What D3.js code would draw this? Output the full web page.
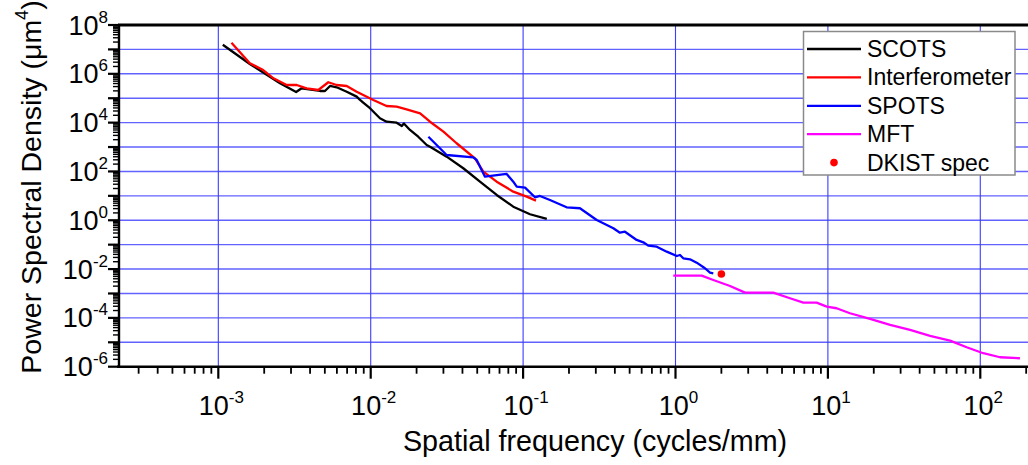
<!DOCTYPE html>
<html><head><meta charset="utf-8">
<script src="https://cdn.jsdelivr.net/npm/d3@7"></script>
<style>body{margin:0;background:#fff} svg{display:block} text{font-family:"Liberation Sans",Arial,sans-serif;fill:#000}</style>
</head><body><svg id="c" width="1028" height="465"></svg>
<script>
// ---- data (cycles/mm, um^4) ----
const scotsFreq=[1.07e-3,1.61e-3,2.54e-3,3.24e-3,3.52e-3,4.65e-3,5.01e-3,5.41e-3,5.98e-3,6.96e-3,8.09e-3,8.51e-3,8.93e-3,9.89e-3,1.15e-2,1.27e-2,1.48e-2,1.60e-2,1.65e-2,1.81e-2,2.05e-2,2.33e-2,2.45e-2,3.15e-2,4.05e-2,5.21e-2,6.71e-2,8.62e-2,0.111,0.143];
const scotsPSD=[1.56e7,2.52e6,4.09e5,1.80e5,2.55e5,1.98e5,1.98e5,3.17e5,2.80e5,1.85e5,1.16e5,8.47e4,6.56e4,3.9e4,1.51e4,1.09e4,9.95e3,7.28e3,9.22e3,5.0e3,2.65e3,1.21e3,1.03e3,403,135,38.1,10.9,3.60,1.76,1.13];
const interfFreq=[1.22e-3,1.61e-3,1.97e-3,2.30e-3,2.81e-3,3.27e-3,3.80e-3,4.53e-3,5.27e-3,5.98e-3,6.96e-3,8.09e-3,1.04e-2,1.27e-2,1.48e-2,1.72e-2,2.11e-2,2.45e-2,3.00e-2,3.66e-2,4.83e-2,5.48e-2,6.71e-2,8.62e-2,0.1056,0.1215];
const interfPSD=[1.88e7,2.70e6,1.43e6,6.55e5,3.48e5,3.48e5,2.55e5,2.17e5,4.50e5,3.48e5,3.17e5,1.85e5,8.46e4,4.81e4,4.50e4,3.52e4,2.41e4,1.09e4,4.26e3,1.43e3,346,97.7,38.1,14.8,9.25,6.34];
const spotsFreq=[2.39e-2,3.15e-2,4.71e-2,4.96e-2,5.62e-2,7.80e-2,8.62e-2,9.08e-2,0.103,0.1197,0.129,0.150,0.193,0.236,0.304,0.391,0.432,0.466,0.556,0.615,0.663,0.753,0.876,1.02,1.07,1.125,1.245,1.377,1.561,1.684,1.77];
const spotsPSD=[2.65e3,472,380,294,61.0,78.7,38.1,23.8,21.6,8.74,9.88,6.78,3.40,3.10,1.03,0.469,0.310,0.340,0.156,0.125,0.0910,0.0828,0.0516,0.0344,0.0378,0.0277,0.0252,0.0183,0.0108,0.00711,0.00673];
const mftFreq=[0.967,1.485,1.77,2.28,2.86,3.97,4.38,5.64,6.90,8.44,9.82,11.4,13.96,18.9,25.6,34.6,46.8,63.3,81.4,104.6,134.7,182];
const mftPSD=[5.37e-3,5.37e-3,3.58e-3,2.03e-3,1.08e-3,1.08e-3,1.08e-3,6.37e-4,4.21e-4,4.21e-4,2.88e-4,2.48e-4,1.55e-4,9.04e-5,5.13e-5,3.20e-5,1.82e-5,1.17e-5,6.25e-6,3.56e-6,2.44e-6,2.22e-6];
const dkistFreq=[2.0];
const dkistPSD=[6.3e-3];
const seriesNames=["SCOTS","Interferometer","SPOTS","MFT","DKIST spec"];
const seriesColors=["#000000","#ff0000","#0000ff","#ff00ff","#ff0000"];
const xTickExps=[-3,-2,-1,0,1,2];
const yTickExps=[-6,-4,-2,0,2,4,6,8];
const xTitle="Spatial frequency (cycles/mm)";
const yTitle="Power Spectral Density (\u03bcm";

// ---- layout ----
const L=119,R=1027.8,T=25,B=366.7;
const svg=d3.select("#c");
const x=d3.scaleLog().domain([2.23e-4,205]).range([L,R]);
const y=d3.scaleLog().domain([1e-6,1e8]).range([B,T]);

svg.append("defs").append("clipPath").attr("id","clip").append("rect")
  .attr("x",L).attr("y",T).attr("width",R-L+5).attr("height",B-T);

// grid
const g=svg.append("g");
const yDec=d3.range(-6,9).map(e=>Math.pow(10,e));
const xDec=d3.range(-3,3).map(e=>Math.pow(10,e));
g.selectAll(".hg").data(yDec.slice(1,-1)).join("line")
  .attr("x1",L).attr("x2",1028).attr("y1",d=>y(d)).attr("y2",d=>y(d))
  .attr("stroke","#6262ff").attr("stroke-width",1.4);
g.selectAll(".vg").data(xDec).join("line")
  .attr("y1",T).attr("y2",B).attr("x1",d=>x(d)).attr("x2",d=>x(d))
  .attr("stroke","#3c3cff").attr("stroke-width",1.1);

// curves
const line=d3.line().x(d=>x(d[0])).y(d=>y(d[1]));
const zip=(a,b)=>a.map((v,i)=>[v,b[i]]);
const curves=[[scotsFreq,scotsPSD,0],[interfFreq,interfPSD,1],[spotsFreq,spotsPSD,2],[mftFreq,mftPSD,3]];
const cg=svg.append("g").attr("clip-path","url(#clip)");
curves.forEach(([f,p,i])=>{
  cg.append("path").attr("d",line(zip(f,p))).attr("fill","none")
    .attr("stroke",seriesColors[i]).attr("stroke-width",2.3).attr("stroke-linejoin","round");
});
cg.selectAll(".dot").data(zip(dkistFreq,dkistPSD)).join("circle")
  .attr("cx",d=>x(d[0])).attr("cy",d=>y(d[1])).attr("r",3.8).attr("fill",seriesColors[4]);

// axes ticks
const yMinor=[],xMinor=[];
d3.range(-6,8).forEach(e=>{for(let k=2;k<=9;k++)yMinor.push(k*Math.pow(10,e));});
d3.range(-4,3).forEach(e=>{for(let k=2;k<=9;k++){const v=k*Math.pow(10,e);if(v>2.23e-4&&v<=205)xMinor.push(v);}});
const ax=svg.append("g");
ax.selectAll(".ymj").data(yDec).join("line").attr("x1",L-11).attr("x2",L).attr("y1",d=>y(d)).attr("y2",d=>y(d)).attr("stroke","#000").attr("stroke-width",2.2);
ax.selectAll(".ymn").data(yMinor).join("line").attr("x1",L-6).attr("x2",L).attr("y1",d=>y(d)).attr("y2",d=>y(d)).attr("stroke","#000").attr("stroke-width",1.4);
ax.selectAll(".xmj").data(xDec).join("line").attr("y1",B).attr("y2",B+12).attr("x1",d=>x(d)).attr("x2",d=>x(d)).attr("stroke","#000").attr("stroke-width",2.2);
ax.selectAll(".xmn").data(xMinor).join("line").attr("y1",B).attr("y2",B+7).attr("x1",d=>x(d)).attr("x2",d=>x(d)).attr("stroke","#000").attr("stroke-width",1.8);
ax.append("line").attr("x1",L).attr("x2",L).attr("y1",T-1).attr("y2",B+1).attr("stroke","#000").attr("stroke-width",2.4);
ax.append("line").attr("x1",L-2).attr("x2",1028).attr("y1",B).attr("y2",B).attr("stroke","#000").attr("stroke-width",2.4);
ax.append("line").attr("x1",L-1).attr("x2",1028).attr("y1",T).attr("y2",T).attr("stroke","#000").attr("stroke-width",3);

// tick labels
yTickExps.forEach(e=>{
  const t=ax.append("text").attr("x",108).attr("y",y(Math.pow(10,e))+9.5).attr("text-anchor","end").attr("font-size",27);
  t.append("tspan").text("10");
  t.append("tspan").attr("dy",-12).attr("font-size",17).text(e);
});
xTickExps.forEach(e=>{
  const t=ax.append("text").attr("x",x(Math.pow(10,e))+3).attr("y",415).attr("text-anchor","middle").attr("font-size",27);
  t.append("tspan").text("10");
  t.append("tspan").attr("dy",-12).attr("font-size",17).text(e);
});

// titles
svg.append("text").attr("x",595).attr("y",451).attr("text-anchor","middle").attr("font-size",28.7).text(xTitle);
const yt=svg.append("text").attr("transform","translate(41,187) rotate(-90)").attr("text-anchor","middle").attr("font-size",28.5);
yt.append("tspan").text(yTitle);
yt.append("tspan").attr("dy",-13).attr("font-size",18).text("4");
yt.append("tspan").attr("dy",13).text(")");

// legend
const lg=svg.append("g");
lg.append("rect").attr("x",803.5).attr("y",31.5).attr("width",211.5).attr("height",143.5).attr("fill","#fff").attr("stroke","#8a8a8a").attr("stroke-width",1.5);
seriesNames.forEach((n,i)=>{
  const yy=49+i*28.4;
  if(i<4) lg.append("line").attr("x1",807).attr("x2",861).attr("y1",yy).attr("y2",yy).attr("stroke",seriesColors[i]).attr("stroke-width",2.3);
  else lg.append("circle").attr("cx",834).attr("cy",yy).attr("r",3.8).attr("fill",seriesColors[i]);
  lg.append("text").attr("x",867).attr("y",yy+8).attr("font-size",23).text(n);
});
</script></body></html>
